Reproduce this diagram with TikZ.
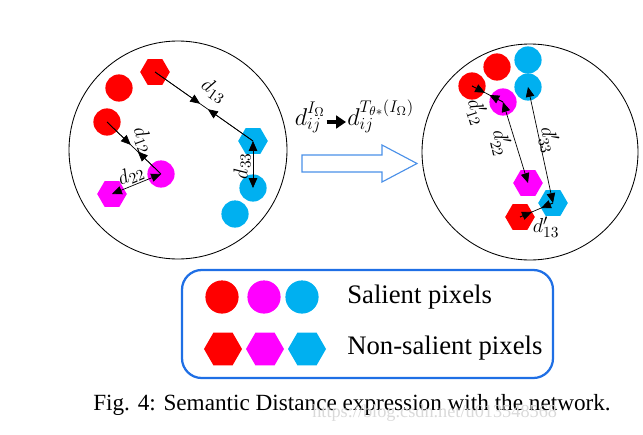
\documentclass[tikz,border=0pt]{standalone}
\usepackage{fontspec}
\setmainfont{Liberation Serif}
\definecolor{pixred}{HTML}{FF0000}
\definecolor{pixmag}{HTML}{FF00FF}
\definecolor{pixcyan}{HTML}{00B0F0}
\definecolor{boxblue}{HTML}{1F6FE5}
\definecolor{arrowblue}{HTML}{4A90E8}
\usetikzlibrary{arrows.meta,positioning,calc,shapes.geometric}

\tikzset{
  salient/.style={circle,inner sep=0pt,minimum size=0.68cm},
  nonsalient/.style={regular polygon,regular polygon sides=6,inner sep=0pt,minimum size=0.74cm},
  keysalient/.style={salient,minimum size=0.83cm},
  keynonsalient/.style={nonsalient,minimum size=0.95cm},
  link/.style={line width=0.5pt},
  halfway/.style={link,-{Triangle[length=7pt,width=6pt]}},
  twoway/.style={link,{Triangle[length=7pt,width=6pt]}-{Triangle[length=7pt,width=6pt]}},
  dist/.style={font=\fontsize{15}{17}\selectfont,inner sep=1pt},
}

\begin{document}
\begin{tikzpicture}[x=0.025cm,y=-0.025cm]
    \useasboundingbox (0,0) rectangle (643,434);

    % Left panel
    \draw[line width=0.6pt] (178,150) circle[radius=109];

    \node[salient,fill=pixred]      (lr1) at (119,88)  {};
    \node[salient,fill=pixred]      (lr2) at (107,122) {};
    \node[nonsalient,fill=pixred]   (lr3) at (155,72)  {};
    \node[salient,fill=pixmag]      (lm1) at (161,174) {};
    \node[nonsalient,fill=pixmag]   (lm2) at (112,194) {};
    \node[nonsalient,fill=pixcyan]  (lc1) at (253,141) {};
    \node[salient,fill=pixcyan]     (lc2) at (253,188) {};
    \node[salient,fill=pixcyan]     (lc3) at (235,214) {};

    \coordinate (l13a) at ($(lr3.center)!0.46!(lc1.center)$);
    \coordinate (l13b) at ($(lr3.center)!0.54!(lc1.center)$);
    \coordinate (l12a) at ($(lr2.center)!0.44!(lm1.center)$);
    \coordinate (l12b) at ($(lr2.center)!0.57!(lm1.center)$);

    \draw[link]    (lr3.center) -- (lc1.center);
    \draw[halfway] (lr3.center) -- (l13a);
    \draw[halfway] (lc1.center) -- (l13b);
    \draw[link]    (lr2.center) -- (lm1.center);
    \draw[halfway] (lr2.center) -- (l12a);
    \draw[halfway] (lm1.center) -- (l12b);
    \draw[twoway]  (lm1.center) -- (lm2.center);
    \draw[twoway]  (lc1.center) -- (lc2.center);

    \node[dist,rotate=-35] (d13) at (214,91)  {$d_{13}$};
    \node[dist,rotate=-70] (d12) at (143,140) {$d_{12}$};
    \node[dist,rotate=22]  (d22) at (131,175) {$d_{22}$};
    \node[dist,rotate=90]  (d33) at (242,166) {$d_{33}$};

    % Right panel
    \draw[line width=0.6pt] (530,152) circle[radius=108];

    \node[salient,fill=pixred]      (rr1) at (497,67)  {};
    \node[salient,fill=pixred]      (rr2) at (472,86)  {};
    \node[nonsalient,fill=pixred]   (rr3) at (520,217) {};
    \node[salient,fill=pixcyan]     (rc1) at (528,60)  {};
    \node[salient,fill=pixcyan]     (rc2) at (528,87)  {};
    \node[nonsalient,fill=pixcyan]  (rc3) at (553,203) {};
    \node[salient,fill=pixmag]      (rm1) at (503,102) {};
    \node[nonsalient,fill=pixmag]   (rm2) at (528,183) {};

    \coordinate (r12a) at ($(rr2.center)!0.42!(rm1.center)$);
    \coordinate (r12b) at ($(rr2.center)!0.56!(rm1.center)$);
    \coordinate (r13a) at ($(rr3.center)!0.36!(rc3.center)$);
    \coordinate (r13b) at ($(rr3.center)!0.64!(rc3.center)$);

    \draw[link]    (rr2.center) -- (rm1.center);
    \draw[halfway] (rr2.center) -- (r12a);
    \draw[halfway] (rm1.center) -- (r12b);
    \draw[link]    (rr3.center) -- (rc3.center);
    \draw[halfway] (rr3.center) -- (r13a);
    \draw[halfway] (rc3.center) -- (r13b);
    \draw[twoway]  (rm1.center) -- (rm2.center);
    \draw[twoway]  (rc2.center) -- (rc3.center);

    \node[dist,rotate=-72] (e12) at (477,112) {$d'_{12}$};
    \node[dist,rotate=-78] (e22) at (501,143) {$d'_{22}$};
    \node[dist,rotate=-78] (e33) at (549,140) {$d'_{33}$};
    \node[dist]            (e13) at (546,227) {$d'_{13}$};

    % Mapping between panels
    \node[anchor=base,inner sep=0pt,font=\fontsize{18}{21}\selectfont]
      (fsrc) at (310,125) {$d_{ij}^{I_\Omega}$};
    \node[anchor=base west,inner sep=0pt,font=\fontsize{18}{21}\selectfont]
      (fdst) at (347,125) {$d_{ij}^{T_{\theta*}(I_\Omega)}$};
    \draw[line width=3pt,-{Triangle[length=7pt,width=9pt]}]
      ($(fsrc.base east)+(1,-3)$) -- ($(fdst.base west)+(-1,-3)$);

    \draw[arrowblue,line width=0.8pt]
      (302,155) -- (382,155) -- (382,145) -- (417,163.5)
      -- (382,182) -- (382,172) -- (302,172) -- cycle;

    % Legend
    \draw[boxblue,line width=1.6pt,rounded corners=14pt]
      (182,270) rectangle (553,378);

    \node[keysalient,fill=pixred]     (kr1) at (222,297) {};
    \node[keysalient,fill=pixmag]     (km1) at (264,297) {};
    \node[keysalient,fill=pixcyan]    (kc1) at (302,297) {};
    \node[keynonsalient,fill=pixred]  (kr2) at (223,349) {};
    \node[keynonsalient,fill=pixmag]  (km2) at (265,349) {};
    \node[keynonsalient,fill=pixcyan] (kc2) at (307,349) {};

    \node[anchor=west,inner sep=0pt,font=\fontsize{19}{22}\selectfont]
      (ksal) at (347,297) {Salient pixels};
    \node[anchor=west,inner sep=0pt,font=\fontsize{19}{22}\selectfont]
      (knon) at (347,348) {Non-salient pixels};

    % Caption
    \node[anchor=west,inner sep=0pt,font=\fontsize{16.5}{19}\selectfont]
      (caption) at (93,405) {Fig. 4: Semantic Distance expression with the network.};
    \node[anchor=west,inner sep=0pt,text=gray!30,font=\fontsize{13}{15}\selectfont]
      (mark) at (312,413) {https://blog.csdn.net/u013548568};
\end{tikzpicture}
\end{document}
